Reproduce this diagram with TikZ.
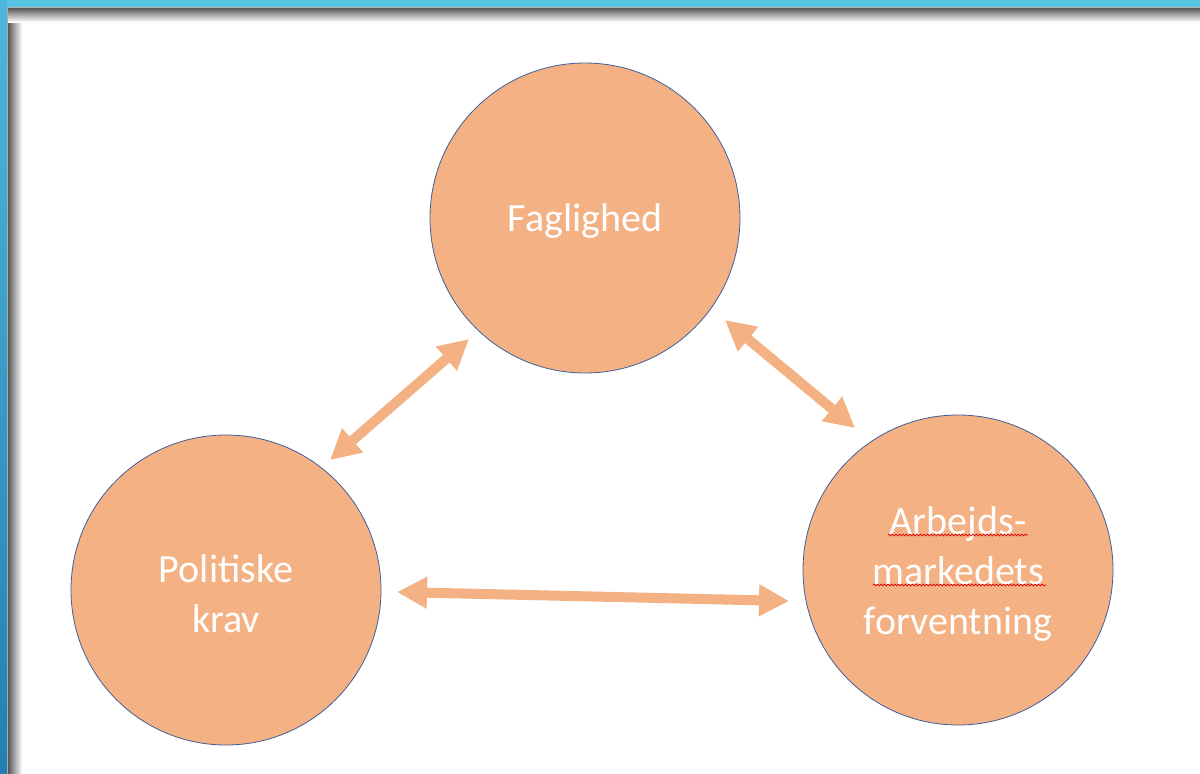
\documentclass[tikz,border=0pt]{standalone}
\usepackage{fontspec}
\setmainfont{Carlito}
\usetikzlibrary{arrows.meta,decorations.pathmorphing}
\definecolor{peach}{HTML}{F4B183}
\definecolor{rimblue}{HTML}{3F5F9A}
\definecolor{frametop}{HTML}{5AC4E4}
\definecolor{frameleftA}{HTML}{4DB6DC}
\definecolor{frameleftB}{HTML}{2380B1}
\begin{document}
\begin{tikzpicture}[x=1pt,y=-1pt,
  bubble/.style={circle, fill=peach, draw=rimblue, line width=0.8pt, minimum size=310pt, inner sep=0pt},
  label text/.style={text=white, font=\fontsize{40}{50}\selectfont, align=center, inner sep=0pt},
  link/.style={peach, line width=10pt, {Triangle[width=30pt,length=30pt]}-{Triangle[width=30pt,length=30pt]}},
  squig/.style={red!85!black, line width=0.7pt, decorate, decoration={snake, amplitude=0.9pt, segment length=3.5pt}}]
\useasboundingbox (0,0) rectangle (1200,774);
\fill[white] (0,0) rectangle (1200,774);
% frame shadow
\shade[left color=black!70, right color=white] (7,7) rectangle (22,774);
\shade[top color=black!70, bottom color=white] (7,7) rectangle (1200,22);
\draw[black!30, line width=0.8pt] (1200,7.4) -- (7.4,7.4) -- (7.4,774);
% frame
\fill[frametop] (0,0) rectangle (1200,7);
\shade[top color=frameleftA, bottom color=frameleftB] (0,0) rectangle (7,774);
% circles
\node[bubble] (fag) at (585,218) {};
\node[bubble] (pol) at (226,590) {};
\node[bubble] (arb) at (958,570) {};
\node[label text] (fagt) at ([yshift=-3pt]fag.center) {Faglighed};
\node[label text] (polt) at ([yshift=-4pt]pol.center) {Politiske\\krav};
\node[label text] (arbt) at ([yshift=-4pt]arb.center) {Arbejds-\\markedets\\forventning};
% spell-check marks
\draw[squig] (888,535) -- (1028,535);
\draw[squig] (873,585) -- (1046,585);
% arrows
\coordinate (a1) at (330,460); \coordinate (a2) at (469,339);
\coordinate (b1) at (725,320); \coordinate (b2) at (855,428);
\coordinate (c1) at (397,592); \coordinate (c2) at (789,601);
\draw[link] (a1) -- (a2);
\draw[link] (b1) -- (b2);
\draw[link] (c1) -- (c2);
\end{tikzpicture}
\end{document}
